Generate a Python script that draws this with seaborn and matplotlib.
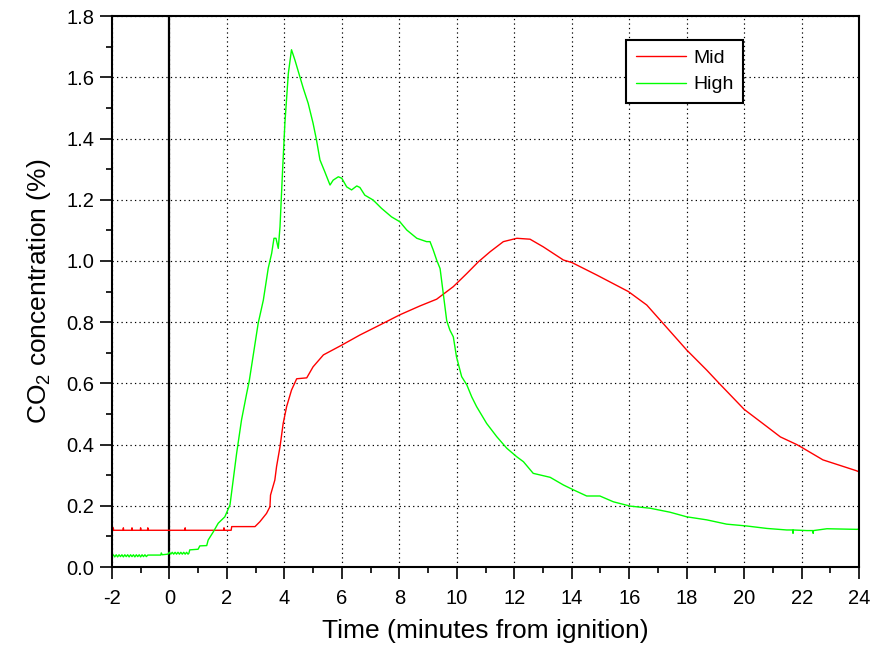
import numpy as np
import pandas as pd
import matplotlib
matplotlib.use("Agg")
import matplotlib.pyplot as plt
from matplotlib.ticker import MultipleLocator, FormatStrFormatter
import seaborn as sns

# CO2 readings (time in minutes from ignition, concentration in %)
mid_time = [-2.0, -1.96, -1.95, -1.94, -1.61, -1.6, -1.59, -1.31, -1.3, -1.29,
            -1.01, -1.0, -0.99, -0.76, -0.75, -0.74, 0.54, 0.55, 0.56, 1.89, 1.9, 1.91,
            2.15, 2.17, 2.98, 3.15, 3.38, 3.5, 3.52, 3.67,
            3.73, 3.85, 3.96, 4.08, 4.25, 4.43, 4.78, 5.0, 5.36, 6.0, 6.63, 7.33,
            8.02, 8.72, 9.3, 9.88, 10.35, 10.75, 11.16, 11.62, 12.09, 12.55, 13.01,
            13.71, 14.0, 14.87, 15.97, 16.61, 17.13, 18.0, 18.7, 19.13, 20.0,
            20.8, 21.26, 21.83, 22.0, 22.74, 23.89, 24.0]
mid_co2 = [0.120, 0.120, 0.128, 0.120, 0.120, 0.128, 0.120, 0.120, 0.128, 0.120,
           0.120, 0.128, 0.120, 0.120, 0.128, 0.120, 0.120, 0.128, 0.120, 0.120, 0.128, 0.120,
           0.120, 0.132, 0.132, 0.148, 0.175, 0.197, 0.235, 0.284,
           0.328, 0.393, 0.469, 0.524, 0.578, 0.615, 0.618, 0.654, 0.693, 0.725, 0.758, 0.791,
           0.824, 0.853, 0.875, 0.916, 0.959, 0.997, 1.030, 1.063, 1.074, 1.071, 1.046,
           1.003, 0.995, 0.954, 0.900, 0.856, 0.801, 0.709, 0.643, 0.600, 0.515,
           0.458, 0.425, 0.400, 0.391, 0.350, 0.315, 0.311]

high_time = [-2.0, -1.95, -1.9, -1.85, -1.8, -1.75, -1.7, -1.65, -1.6, -1.55, -1.5,
             -1.45, -1.4, -1.35, -1.3, -1.25, -1.2, -1.15, -1.1, -1.05, -1.0, -0.95,
             -0.9, -0.85, -0.8, -0.75, -0.3, -0.28, -0.25,
             -0.05, 0.0, 0.05, 0.1, 0.15, 0.2, 0.25, 0.3, 0.35, 0.4, 0.45, 0.5, 0.55,
             0.6, 0.65, 0.68,
             0.71, 1.0, 1.06, 1.3, 1.35, 1.53, 1.7, 1.93, 2.11, 2.22, 2.34, 2.51, 2.69,
             2.78, 3.09, 3.27, 3.44, 3.56, 3.64, 3.71, 3.79, 3.85, 3.94, 4.02, 4.14,
             4.25, 4.37, 4.54, 4.66, 4.83, 5.0, 5.12, 5.24, 5.41, 5.59, 5.7, 5.88,
             6.0, 6.17, 6.34, 6.52, 6.63, 6.8, 7.09, 7.38, 7.73, 8.02, 8.26, 8.61,
             8.95, 9.07, 9.18, 9.3, 9.42, 9.53, 9.65, 9.76, 9.88, 9.99, 10.17, 10.35,
             10.52, 10.69, 11.04, 11.39, 11.74, 12.09, 12.32, 12.66, 13.25, 13.71,
             14.06, 14.52, 14.98, 15.45, 16.03, 16.73, 17.42, 18.0, 18.7, 19.39,
             20.09, 20.79, 21.48, 21.69, 21.7, 21.71, 22.18, 22.39, 22.4, 22.41,
             22.88, 23.92, 24.0]
high_co2 = [0.034, 0.040, 0.033, 0.040, 0.033, 0.040, 0.034, 0.040, 0.033, 0.040, 0.034,
            0.040, 0.033, 0.040, 0.034, 0.040, 0.033, 0.040, 0.034, 0.040, 0.033, 0.040,
            0.034, 0.040, 0.034, 0.039, 0.039, 0.046, 0.040,
            0.042, 0.048, 0.042, 0.048, 0.042, 0.048, 0.042, 0.048, 0.042, 0.048, 0.042, 0.048, 0.042,
            0.048, 0.042, 0.045,
            0.056, 0.058, 0.069, 0.070, 0.088, 0.115, 0.143, 0.164, 0.203, 0.284, 0.371, 0.480, 0.567,
            0.608, 0.796, 0.872, 0.976, 1.025, 1.074, 1.074, 1.041, 1.112, 1.297, 1.450, 1.613,
            1.690, 1.656, 1.602, 1.564, 1.515, 1.450, 1.395, 1.330, 1.291, 1.248, 1.264, 1.275,
            1.270, 1.242, 1.232, 1.245, 1.240, 1.215, 1.199, 1.172, 1.144, 1.128, 1.101, 1.074,
            1.063, 1.063, 1.036, 1.003, 0.975, 0.895, 0.805, 0.774, 0.752, 0.687, 0.622, 0.595,
            0.556, 0.524, 0.469, 0.426, 0.388, 0.360, 0.344, 0.306, 0.293, 0.268,
            0.252, 0.232, 0.232, 0.213, 0.199, 0.192, 0.179, 0.164, 0.154, 0.140,
            0.134, 0.126, 0.121, 0.121, 0.110, 0.121, 0.119, 0.119, 0.110, 0.119,
            0.125, 0.123, 0.124]

series_names = ["Mid", "High"]
series_colors = ["#ff0000", "#00ff00"]

x_ticks = list(range(-2, 25, 2))
y_ticks = [0.0, 0.2, 0.4, 0.6, 0.8, 1.0, 1.2, 1.4, 1.6, 1.8]

df = pd.concat([
    pd.DataFrame({"Time": mid_time, "CO2": mid_co2, "Series": "Mid"}),
    pd.DataFrame({"Time": high_time, "CO2": high_co2, "Series": "High"}),
], ignore_index=True)

sns.set_theme(style="white")
plt.rcParams["font.family"] = ["Liberation Sans", "DejaVu Sans"]
plt.rcParams["text.color"] = "black"
plt.rcParams["axes.labelcolor"] = "black"
plt.rcParams["mathtext.fontset"] = "custom"
plt.rcParams["mathtext.rm"] = "Liberation Sans"
plt.rcParams["mathtext.it"] = "Liberation Sans:italic"
plt.rcParams["mathtext.bf"] = "Liberation Sans:bold"
plt.rcParams["axes.unicode_minus"] = False

fig = plt.figure(figsize=(8.74, 6.59), dpi=100)
ax = fig.add_axes([0.128, 0.1396, 0.855, 0.836])

ax.grid(True, which="major", color="black", linestyle=(0, (1.1, 2.7)), linewidth=0.85)
ax.set_axisbelow(True)

sns.lineplot(data=df, x="Time", y="CO2", hue="Series", hue_order=series_names,
             palette=dict(zip(series_names, series_colors)), sort=False,
             estimator=None, linewidth=1.0, ax=ax)

ax.axvline(0, color="black", linewidth=1.6, zorder=1.5)

ax.set_xlim(-2, 24)
ax.set_ylim(0, 1.8)
ax.set_xticks(x_ticks)
ax.set_yticks(y_ticks)
ax.xaxis.set_minor_locator(MultipleLocator(1))
ax.yaxis.set_minor_locator(MultipleLocator(0.1))
ax.yaxis.set_major_formatter(FormatStrFormatter("%.1f"))

for side in ["left", "bottom", "top", "right"]:
    ax.spines[side].set_visible(True)
    ax.spines[side].set_color("black")
    ax.spines[side].set_linewidth(1.5)

ax.tick_params(axis="both", which="major", direction="out", length=8.5, width=1.2,
               color="black", labelsize=14.5, labelcolor="black",
               bottom=True, left=True, top=False, right=False)
ax.tick_params(axis="both", which="minor", direction="out", length=4, width=1.2,
               color="black", bottom=True, left=True, top=False, right=False)
ax.tick_params(axis="x", which="major", pad=7)
ax.tick_params(axis="y", which="major", pad=4)

ax.set_xlabel("Time (minutes from ignition)", fontsize=19, color="black", labelpad=8)
ax.set_ylabel(r"CO$_\mathregular{2}$ concentration (%)", fontsize=19, color="black", labelpad=10)

leg = ax.legend(loc="upper left", bbox_to_anchor=(0.688, 0.957), borderaxespad=0,
                frameon=True, fancybox=False, edgecolor="black", fontsize=14,
                handlelength=2.6, handletextpad=0.35, labelspacing=0.45,
                borderpad=0.5, title=None)
leg.get_frame().set_linewidth(1.5)
leg.get_frame().set_facecolor("white")
leg.get_frame().set_alpha(1)
for text in leg.get_texts():
    text.set_color("black")
for line in leg.get_lines():
    line.set_linewidth(1.0)

fig.savefig("out.png", dpi=100)
